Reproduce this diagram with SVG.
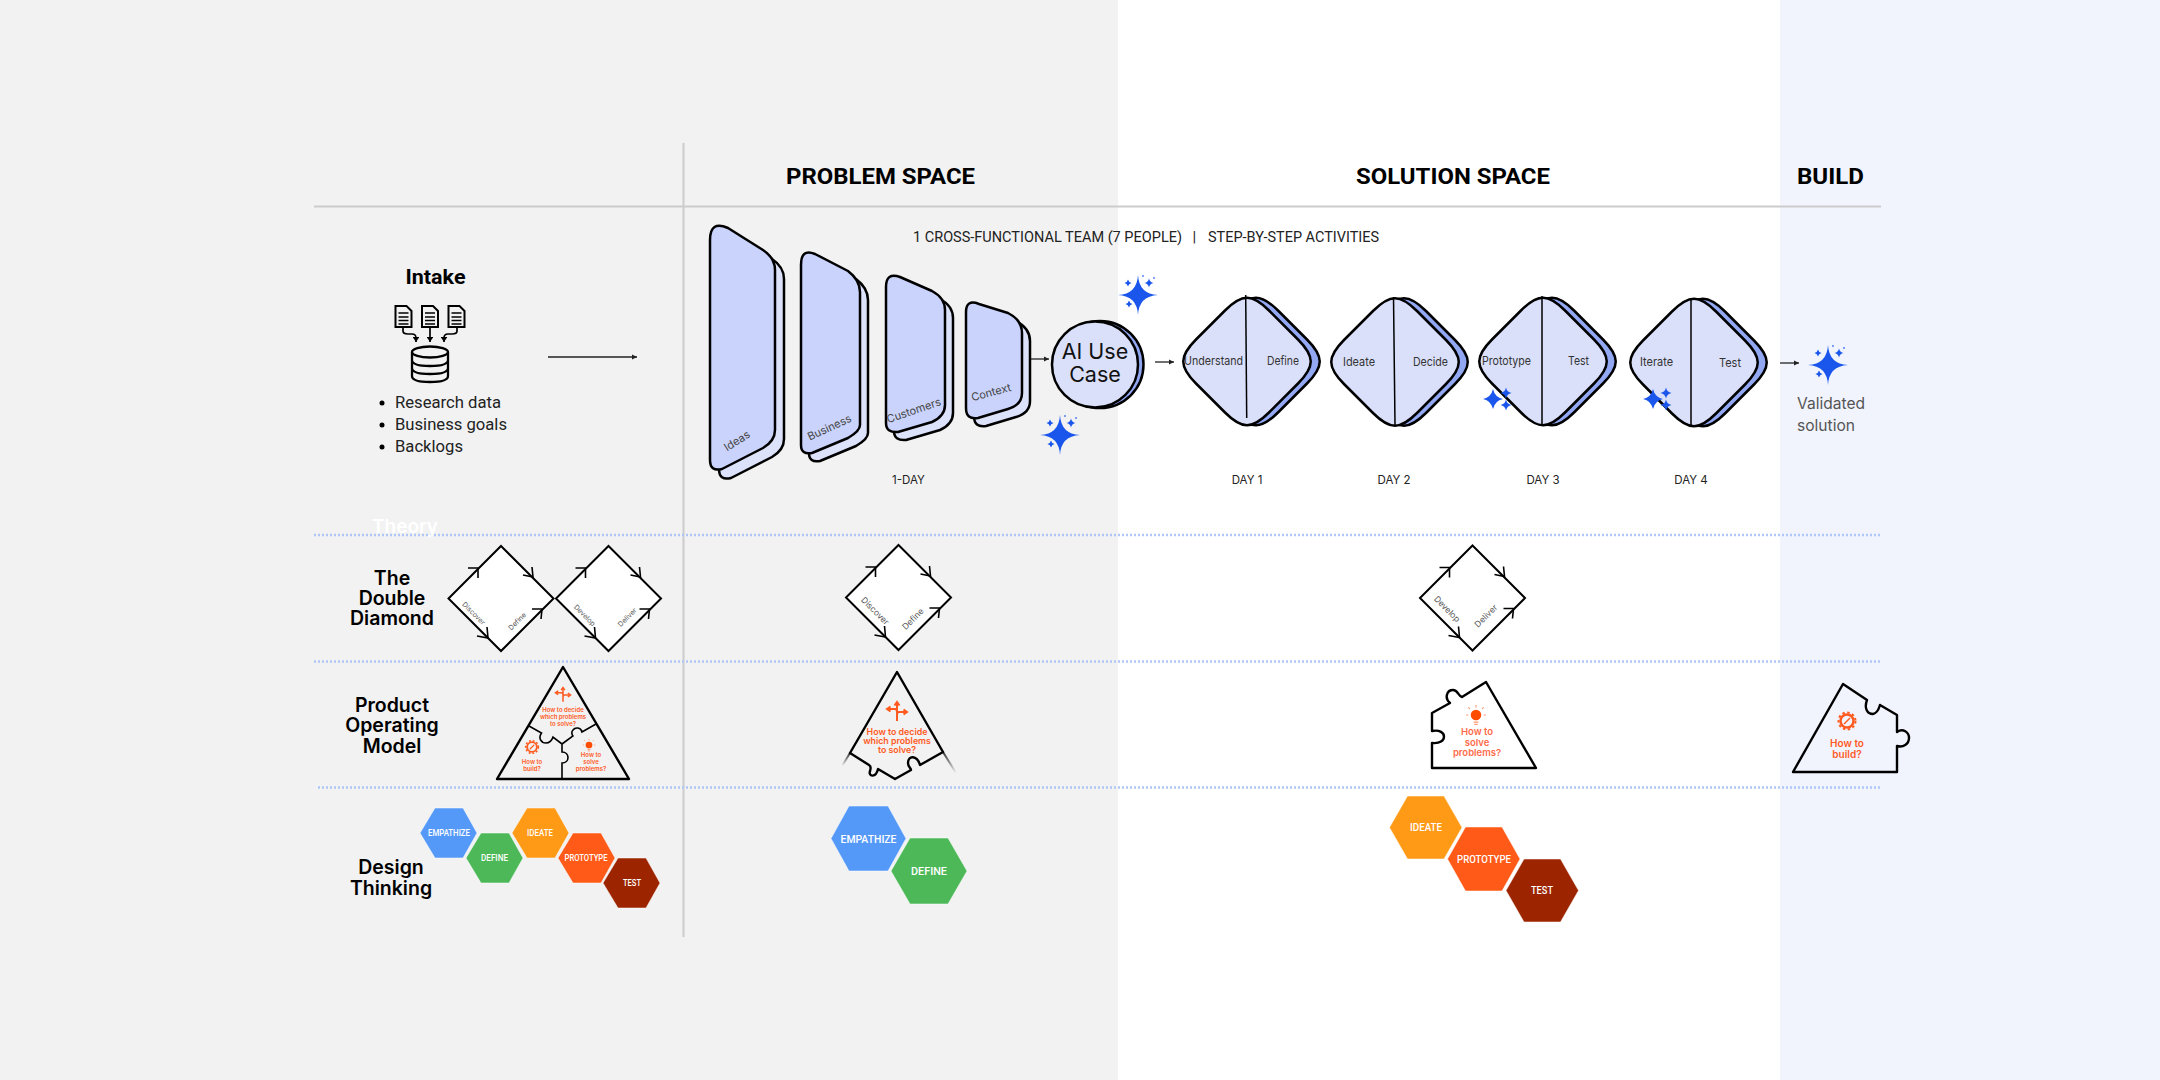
<svg xmlns="http://www.w3.org/2000/svg" width="2160" height="1080" viewBox="0 0 2160 1080">
<style>
text{font-family:"Inter","Liberation Sans",sans-serif;fill:#222}
.hd{font-family:"Roboto","Liberation Sans",sans-serif;font-weight:700;font-size:22.5px;fill:#000;text-anchor:middle}
.sub{font-family:"Roboto","Liberation Sans",sans-serif;font-size:15px;fill:#222}
.day{font-size:11.5px;text-anchor:middle}
.lab{font-size:12px;fill:#333}
.row{font-family:"Inter","Liberation Sans",sans-serif;font-weight:600;font-size:19.5px;fill:#000;text-anchor:middle}
.li{font-family:"Roboto","Liberation Sans",sans-serif;font-size:16.5px;fill:#222}
.rot{font-size:8.5px;fill:#555;text-anchor:middle}
.rots{font-size:7px;fill:#555;text-anchor:middle}
.stage{font-size:11px;fill:#444;text-anchor:middle}
.or{font-weight:600;fill:#ff5a1f;text-anchor:middle}
.hx{font-family:"Roboto","Liberation Sans",sans-serif;font-weight:500;fill:#fff;text-anchor:middle}
.fr{fill:#c9d3fb;stroke:#000;stroke-width:2.5;stroke-linejoin:round}
.bk{fill:#dde2fb;stroke:#000;stroke-width:2.5;stroke-linejoin:round}
.dia{fill:#dae0fa;stroke:#000;stroke-width:2.5}
.dib{fill:#92a8f3;stroke:#000;stroke-width:2.5}
.g{fill:none;stroke:#ccc;stroke-width:2}
.dot{fill:none;stroke:#b0c6f7;stroke-width:2.5;stroke-dasharray:2 2}
.ln{fill:none;stroke:#000;stroke-width:1.5}
.dd{fill:#fff;stroke:#000;stroke-width:2}
.ch{fill:none;stroke:#000;stroke-width:1.6}
.pz{fill:none;stroke:#000;stroke-width:2.4;stroke-linejoin:round}
.pzn{fill:none;stroke:#000;stroke-width:1.6}
.con{fill:none;stroke:#222;stroke-width:1.3;marker-end:url(#ah)}
.sp{fill:#1a56ec}
.hex{stroke:#fff;stroke-opacity:.5;stroke-width:1}
</style>
<defs>
<marker id="ah" markerWidth="5" markerHeight="5" refX="4" refY="2" orient="auto"><path d="M0 0L4 2L0 4Z" fill="#222"/></marker>
<marker id="ai" markerWidth="4" markerHeight="4" refX="3" refY="2" orient="auto"><path d="M0 0L3 2L0 4Z" fill="#000"/></marker>
<path id="star" d="M0 -1Q.05 -.05 1 0Q.05 .05 0 1Q-.05 .05 -1 0Q-.05 -.05 0 -1Z"/>
<path id="fat" d="M0 -1Q.18 -.18 1 0Q.18 .18 0 1Q-.18 .18 -1 0Q-.18 -.18 0 -1Z"/>
<g id="spark" class="sp">
<use href="#star" transform="scale(20)"/>
<use href="#fat" transform="translate(-10,-12) scale(3.500)"/>
<use href="#fat" transform="translate(11,-12) scale(4.500)"/>
<use href="#fat" transform="translate(-9,9) scale(3.500)"/>
<use href="#fat" transform="translate(5,-19) scale(1.200)"/>
<use href="#fat" transform="translate(16,-17) scale(1.200)"/>
</g>
<g id="spark2" class="sp">
<use href="#fat" transform="scale(10)"/>
<use href="#fat" transform="translate(13,-6) scale(5.500)"/>
<use href="#fat" transform="translate(13,6) scale(5.500)"/>
</g>
<path id="rd" d="M-22 -51C-5 -68 5 -68 22 -51L51 -22C68 -5 68 5 51 22L22 51C5 68 -5 68 -22 51L-51 22C-68 5 -68 -5 -51 -22Z"/>
<g id="doc"><path d="M0 0H11L16 5V21H0Z" fill="none" stroke="#000" stroke-width="2"/><path d="M3 7H13M3 11H13M3 14.500H13M3 18H13" stroke="#000" stroke-width="1.500"/></g>
<g id="dm">
<path class="dd" d="M0 -52.500L52.500 0L0 52.500L-52.500 0Z"/>
<path class="ch" d="M-33 -30.500H-23V-20.500M31 -31.500L32 -21.500L22 -23.500M31 10.500H41L40 20.500M-24 37.500L-13 39.500L-14 28.500"/>
</g>
<g id="gear"><circle r="6.500" fill="none" stroke="#ff5a1f" stroke-width="2.500"/><circle r="8.500" fill="none" stroke="#ff5a1f" stroke-width="2" stroke-dasharray="2.500 2.500"/><path d="M-3 3L3 -3" stroke="#ff5a1f" stroke-width="1.500"/></g>
<g id="cross" fill="none" stroke="#ff5a1f" stroke-width="2"><path d="M0 9V-9M-9 -3H-2Q0 -3 0 0M9 0H2Q0 0 0 3"/><path d="M-2.500 -6.500L0 -10L2.500 -6.500M-6.500 -5.500L-10 -3L-6.500 -.5M6.500 -2.500L10 0L6.500 2.500"/></g>
<g id="bulb"><circle r="4.800" fill="#ff4d00"/><path d="M-2.200 6.500H2.200M-1.500 8.500H1.500" stroke="#ff9a70" stroke-width="1.300"/><path d="M0 -6.500V-9M-5.500 -5.500L-7 -7M5.500 -5.500L7 -7M-7 0H-9M7 0H9" stroke="#ff9a70" stroke-width="1"/></g>
<linearGradient id="f1" gradientUnits="userSpaceOnUse" x1="850" y1="753" x2="842" y2="766"><stop offset="0" stop-color="#333"/><stop offset="1" stop-color="#333" stop-opacity="0"/></linearGradient>
<linearGradient id="f2" gradientUnits="userSpaceOnUse" x1="943" y1="752" x2="956" y2="773"><stop offset="0" stop-color="#333"/><stop offset="1" stop-color="#333" stop-opacity="0"/></linearGradient>
</defs>

<g id="background">
<rect width="2160" height="1080" fill="#fff"/>
<rect width="1118" height="1080" fill="#f2f2f2"/>
<rect x="1780" width="380" height="1080" fill="#f1f4fd"/>
<path class="g" d="M683.500 143V937M314 206.500H1881"/>
<path class="dot" d="M314 535H1881M314 661.500H1881M318 787.500H1881"/>
</g>

<g id="headers">
<text class="hd" x="880.500" y="184" textLength="189" lengthAdjust="spacingAndGlyphs">PROBLEM SPACE</text>
<text class="hd" x="1453" y="184" textLength="194" lengthAdjust="spacingAndGlyphs">SOLUTION SPACE</text>
<text class="hd" x="1830.500" y="184" textLength="67" lengthAdjust="spacingAndGlyphs">BUILD</text>
<text class="sub" x="913" y="242" textLength="269" lengthAdjust="spacingAndGlyphs">1 CROSS-FUNCTIONAL TEAM (7 PEOPLE)</text>
<text class="sub" x="1192.500" y="242">|</text>
<text class="sub" x="1208" y="242" textLength="171" lengthAdjust="spacingAndGlyphs">STEP-BY-STEP ACTIVITIES</text>
<text x="372" y="533" font-size="19" font-weight="600" style="fill:#fff">Theory</text>
</g>

<g id="intake">
<text x="435.500" y="284" text-anchor="middle" font-weight="700" font-size="20" style="font-family:Roboto,sans-serif;fill:#000" textLength="60" lengthAdjust="spacingAndGlyphs">Intake</text>
<use href="#doc" x="395.500" y="306"/><use href="#doc" x="422" y="306"/><use href="#doc" x="448.500" y="306"/>
<g fill="none" stroke="#000" stroke-width="1.700">
<path marker-end="url(#ai)" d="M403 327V331Q403 334 408 334H412Q416 334 416 338V342"/>
<path marker-end="url(#ai)" d="M430 327V342"/>
<path marker-end="url(#ai)" d="M457 327V331Q457 334 452 334H448Q444 334 444 338V342"/>
</g>
<g fill="none" stroke="#000" stroke-width="2.300">
<ellipse cx="430" cy="352" rx="18" ry="5.500"/>
<path d="M412 352V376Q412 382 430 382Q448 382 448 376V352M412 360Q412 366 430 366Q448 366 448 360M412 368Q412 374 430 374Q448 374 448 368"/>
</g>
<circle cx="382" cy="403" r="2.500"/><circle cx="382" cy="425" r="2.500"/><circle cx="382" cy="447" r="2.500"/>
<text class="li" x="395" y="408" textLength="106" lengthAdjust="spacingAndGlyphs">Research data</text>
<text class="li" x="395" y="430" textLength="112" lengthAdjust="spacingAndGlyphs">Business goals</text>
<text class="li" x="395" y="452" textLength="68" lengthAdjust="spacingAndGlyphs">Backlogs</text>
</g>

<g id="card-ideas">
<path class="bk" transform="translate(9,9)" d="M710 240Q710 220 728 228L763 250Q775 258 775 270V430Q775 441 763 448L722 469Q710 472 710 460Z"/>
<path class="fr" d="M710 240Q710 220 728 228L763 250Q775 258 775 270V430Q775 441 763 448L722 469Q710 472 710 460Z"/>
<text class="stage" transform="translate(739,444) rotate(-32)">Ideas</text>
</g>
<g id="card-business">
<path class="bk" transform="translate(8,8)" d="M801 265Q801 248 815 254L848 271Q860 280 860 292V425Q860 431 848 438L812 453Q801 455 801 445Z"/>
<path class="fr" d="M801 265Q801 248 815 254L848 271Q860 280 860 292V425Q860 431 848 438L812 453Q801 455 801 445Z"/>
<text class="stage" transform="translate(831,431) rotate(-25)">Business</text>
</g>
<g id="card-customers">
<path class="bk" transform="translate(8,8)" d="M886 287Q886 272 900 277L932 291Q945 298 945 310V405Q945 416 932 422L898 432Q886 433 886 423Z"/>
<path class="fr" d="M886 287Q886 272 900 277L932 291Q945 298 945 310V405Q945 416 932 422L898 432Q886 433 886 423Z"/>
<text class="stage" transform="translate(915,414) rotate(-19)">Customers</text>
</g>
<g id="card-context">
<path class="bk" transform="translate(8,8)" d="M966 312Q966 299 979 304L1008 313Q1022 320 1022 333V393Q1022 405 1008 409L978 418Q966 420 966 408Z"/>
<path class="fr" d="M966 312Q966 299 979 304L1008 313Q1022 320 1022 333V393Q1022 405 1008 409L978 418Q966 420 966 408Z"/>
<text class="stage" transform="translate(992,396) rotate(-15)">Context</text>
</g>

<g id="ai-use-case">
<circle cx="1100" cy="364.500" r="43.500" fill="#92a8f3" stroke="#000" stroke-width="2.500"/>
<circle cx="1095" cy="364.500" r="43" fill="#dae0fa" stroke="#000" stroke-width="2.500"/>
<text x="1095" y="359" text-anchor="middle" font-size="21.500" style="fill:#111">AI Use</text>
<text x="1095" y="382" text-anchor="middle" font-size="21.500" style="fill:#111">Case</text>
</g>
<g id="sparkles-a"><use href="#spark" x="1138" y="295"/><use href="#spark" x="1060" y="435"/></g>

<g id="day1">
<use class="dib" href="#rd" x="1256" y="361.500"/><use class="dia" href="#rd" x="1247" y="361.500"/>
<path class="ln" d="M1245.700 295L1246.700 418"/>
<text class="lab" x="1184" y="365" textLength="59" lengthAdjust="spacingAndGlyphs">Understand</text>
<text class="lab" x="1267" y="365" textLength="32" lengthAdjust="spacingAndGlyphs">Define</text>
<text class="day" x="1247" y="484">DAY 1</text>
</g>
<g id="day2">
<use class="dib" href="#rd" x="1404" y="362"/><use class="dia" href="#rd" x="1395" y="362"/>
<path class="ln" d="M1393.500 297L1395 425"/>
<text class="lab" x="1343" y="366" textLength="32" lengthAdjust="spacingAndGlyphs">Ideate</text>
<text class="lab" x="1413" y="366" textLength="35" lengthAdjust="spacingAndGlyphs">Decide</text>
<text class="day" x="1394" y="484">DAY 2</text>
</g>
<g id="day3">
<use class="dib" href="#rd" x="1552" y="361.500"/><use class="dia" href="#rd" x="1543" y="361.500"/>
<path class="ln" d="M1542 296V426"/>
<text class="lab" x="1482" y="365" textLength="49" lengthAdjust="spacingAndGlyphs">Prototype</text>
<text class="lab" x="1568" y="365" textLength="21" lengthAdjust="spacingAndGlyphs">Test</text>
<text class="day" x="1543" y="484">DAY 3</text>
<use href="#spark2" x="1493" y="399"/>
</g>
<g id="day4">
<use class="dib" href="#rd" x="1703" y="362.500"/><use class="dia" href="#rd" x="1694" y="362.500"/>
<path class="ln" d="M1691 298V426"/>
<text class="lab" x="1640" y="366" textLength="33" lengthAdjust="spacingAndGlyphs">Iterate</text>
<text class="lab" x="1719" y="367" textLength="22" lengthAdjust="spacingAndGlyphs">Test</text>
<text class="day" x="1691" y="484">DAY 4</text>
<use href="#spark2" x="1653" y="399"/>
</g>
<g id="validated">
<use href="#spark" x="1828" y="365"/>
<text x="1797" y="409" font-size="16" style="fill:#555" textLength="68" lengthAdjust="spacingAndGlyphs">Validated</text>
<text x="1797" y="431" font-size="16" style="fill:#555" textLength="58" lengthAdjust="spacingAndGlyphs">solution</text>
</g>
<text id="one-day" class="day" x="908.500" y="484">1-DAY</text>

<g id="connectors">
<path class="con" d="M548 357H637"/>
<path class="con" d="M1031 359H1049"/>
<path class="con" d="M1155 362H1174"/>
<path class="con" d="M1780 363H1799"/>
</g>

<g id="double-diamond-row">
<text class="row"><tspan x="392" y="585">The</tspan><tspan x="392" y="605">Double</tspan><tspan x="392" y="625">Diamond</tspan></text>
<use href="#dm" x="501" y="598.500"/><use href="#dm" x="608.500" y="598.500"/>
<text class="rots" transform="translate(472,615) rotate(45)">Discover</text>
<text class="rots" transform="translate(519,623) rotate(-45)">Define</text>
<text class="rots" transform="translate(583,617) rotate(45)">Develop</text>
<text class="rots" transform="translate(629,619) rotate(-45)">Deliver</text>
</g>
<g id="dd-problem">
<use href="#dm" x="898.500" y="597.500"/>
<text class="rot" transform="translate(873,613) rotate(45)">Discover</text>
<text class="rot" transform="translate(915,621) rotate(-45)">Define</text>
</g>
<g id="dd-solution">
<use href="#dm" x="1472.500" y="598"/>
<text class="rot" transform="translate(1445,611) rotate(45)">Develop</text>
<text class="rot" transform="translate(1488,618) rotate(-45)">Deliver</text>
</g>

<g id="pom-row">
<text class="row"><tspan x="392" y="712">Product</tspan><tspan x="392" y="732">Operating</tspan><tspan x="392" y="752.500">Model</tspan></text>
<path class="pz" d="M563 667L629 779H497Z"/>
<path class="pzn" d="M529 726L541.500 733C538 738 541 743 546 743C550 743 552 740 553 737L562 744M596 724L582 732C581 727 575 727 573 730C571 732 572 735 573 736L562 744M562 744V752C570 752 570 763 562 763V779"/>
<use href="#cross" transform="translate(563,695) scale(.75)"/>
<use href="#gear" transform="translate(532,747) scale(.75)"/>
<use href="#bulb" transform="translate(589,745) scale(.7)"/>
<g font-size="6"><text class="or" x="563" y="712">How to decide</text><text class="or" x="563" y="719">which problems</text><text class="or" x="563" y="725.500">to solve?</text>
<text class="or" x="532" y="764">How to</text><text class="or" x="532" y="770.500">build?</text>
<text class="or" x="591" y="757">How to</text><text class="or" x="591" y="764">solve</text><text class="or" x="591" y="770.500">problems?</text></g>
</g>
<g id="pom-problem">
<path stroke="url(#f1)" stroke-width="2" fill="none" d="M850 753L842 766"/>
<path stroke="url(#f2)" stroke-width="2" fill="none" d="M943 752L956 773"/>
<path class="pz" d="M897 672L943 752L920 765C917 755 908 755 908 763C908 767 911 768 911 770L895 779L878 769C876 778 868 777 870 771C871 768 871 766 869 765L850 753Z"/>
<use href="#cross" x="897" y="712"/>
<g font-size="8.800"><text class="or" x="897" y="735">How to decide</text><text class="or" x="897" y="744">which problems</text><text class="or" x="897" y="753">to solve?</text></g>
</g>
<g id="pom-solution">
<path class="pz" d="M1486 682L1536 768H1432V743C1448 745 1448 728 1432 731V713L1450 703C1444 698 1447 690 1453 690C1458 690 1458 696 1462 697Z"/>
<use href="#bulb" transform="translate(1476,715) scale(1.100)"/>
<g font-size="9.500"><text class="or" x="1477" y="735" style="fill:#ff6b4a">How to</text><text class="or" x="1477" y="745.500" style="fill:#ff6b4a">solve</text><text class="or" x="1477" y="755.500" style="fill:#ff6b4a">problems?</text></g>
</g>
<g id="pom-build">
<path class="pz" d="M1843 684L1867 700C1864 708 1867 714 1873 714C1878 713 1879 708 1880 705L1897 715V732C1903 728 1909 732 1909 738C1909 744 1903 748 1897 746V772H1793Z"/>
<use href="#gear" x="1847" y="721"/>
<g font-size="10"><text class="or" x="1847" y="747">How to</text><text class="or" x="1847" y="757.500">build?</text></g>
</g>

<g id="design-thinking-row">
<text class="row"><tspan x="391" y="874">Design</tspan><tspan x="391" y="895">Thinking</tspan></text>
<g id="dt-small" font-size="8.500">
<path class="hex" fill="#5599f8" d="M420 833L435 808H463L477 833L463 858H435Z"/><text class="hx" x="449" y="836" textLength="42" lengthAdjust="spacingAndGlyphs">EMPATHIZE</text>
<path class="hex" fill="#4cb858" d="M466 858L481 833H509L523 858L509 883H481Z"/><text class="hx" x="494.500" y="861" textLength="27" lengthAdjust="spacingAndGlyphs">DEFINE</text>
<path class="hex" fill="#ff9a17" d="M512 833L527 808H555L569 833L555 858H527Z"/><text class="hx" x="540" y="836" textLength="26" lengthAdjust="spacingAndGlyphs">IDEATE</text>
<path class="hex" fill="#ff5a17" d="M558 858L573 833H601L615 858L601 883H573Z"/><text class="hx" x="586" y="861" textLength="43" lengthAdjust="spacingAndGlyphs">PROTOTYPE</text>
<path class="hex" fill="#9c2500" d="M603 883L618 858H646L660 883L646 908H618Z"/><text class="hx" x="632" y="886" textLength="18" lengthAdjust="spacingAndGlyphs">TEST</text>
</g>
<g id="dt-problem" font-size="11.500">
<path class="hex" fill="#5599f8" d="M831 838.500L849 806H888L906 838.500L888 871H849Z"/><text class="hx" x="868.500" y="842.500" textLength="56" lengthAdjust="spacingAndGlyphs">EMPATHIZE</text>
<path class="hex" fill="#4cb858" d="M891 871L910 838H948L967 871L948 904H910Z"/><text class="hx" x="929" y="875" textLength="36" lengthAdjust="spacingAndGlyphs">DEFINE</text>
</g>
<g id="dt-solution" font-size="11.500">
<path class="hex" fill="#ff9a17" d="M1389.500 827.500L1407.500 796H1444L1462 827.500L1444 859H1407.500Z"/><text class="hx" x="1426" y="831" textLength="32" lengthAdjust="spacingAndGlyphs">IDEATE</text>
<path class="hex" fill="#ff5a17" d="M1447.500 859L1465.500 827H1502L1520 859L1502 891H1465.500Z"/><text class="hx" x="1484" y="862.500" textLength="54" lengthAdjust="spacingAndGlyphs">PROTOTYPE</text>
<path class="hex" fill="#9c2500" d="M1506 890.500L1524 859H1560.500L1578.500 890.500L1560.500 922H1524Z"/><text class="hx" x="1542" y="894" textLength="22" lengthAdjust="spacingAndGlyphs">TEST</text>
</g>
</g>
</svg>
